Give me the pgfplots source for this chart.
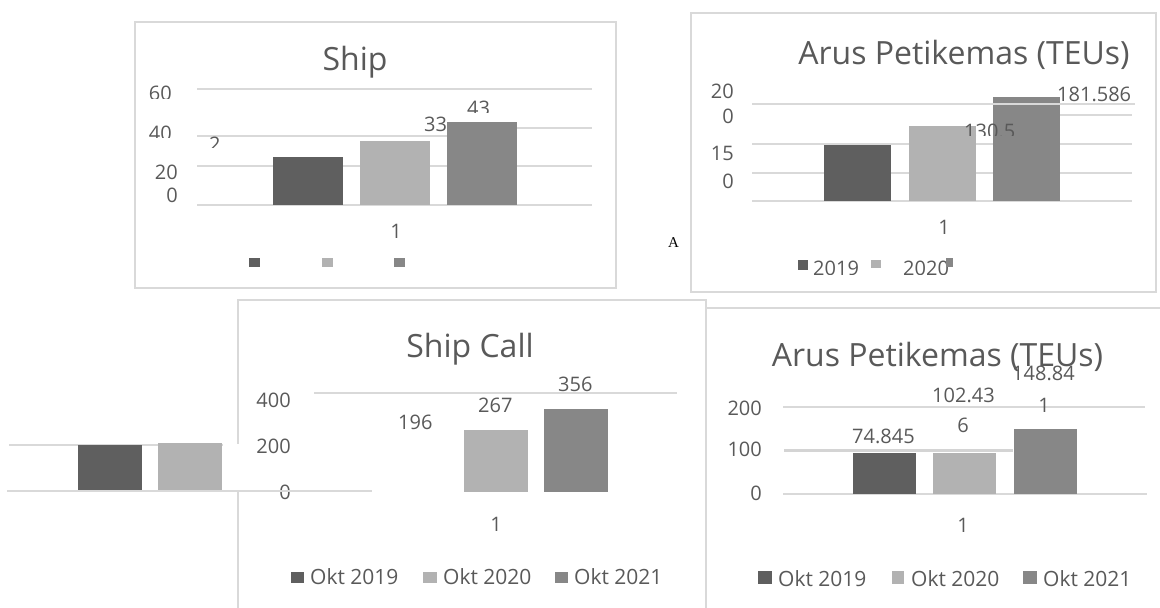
\documentclass[border=0pt]{standalone}
\usepackage{fontspec}
\setmainfont{Open Sans}
\newfontfamily\serifA{Liberation Serif}
\usepackage{pgfplots}
\pgfplotsset{compat=1.18}
\definecolor{txt}{HTML}{595959}
\definecolor{gridc}{HTML}{D9D9D9}
\definecolor{cA}{HTML}{5F5F5F}
\definecolor{cB}{HTML}{B2B2B2}
\definecolor{cC}{HTML}{878787}
\newcommand\ft{\fontsize{32}{38}\selectfont}
\newcommand\fs{\fontsize{20}{24}\selectfont}
\newcommand\fl{\fontsize{21}{25}\selectfont}
\pgfplotsset{barax/.style={scale only axis, hide axis, xmin=0.5, xmax=1.5,
  ymin=0, ybar, anchor=south west}}
\tikzset{t/.style={inner sep=0pt, text=txt, font=\fs}}

\begin{document}
\begin{tikzpicture}[x=1pt,y=1pt]
\useasboundingbox (0,0) rectangle (1160,608);

% boxes and gridlines (pixel coords, y down)
\begin{scope}[yshift=608pt, yscale=-1, line width=1.3pt]
  \draw[gridc] (135,22) rectangle (616,288);
  \draw[gridc] (691,13) rectangle (1156,292);
  \draw[gridc] (238,444) -- (238,300) -- (706,300) -- (706,608);
  \draw[gridc] (238,492) -- (238,608);
  \draw[gridc] (706,308) -- (1160,308);
  % Ship
  \draw[gridc] (197,89) -- (592,89);
  \draw[gridc] (197,136) -- (447,136);
  \draw[gridc] (447,128) -- (592,128);
  \draw[gridc] (197,166) -- (592,166);
  \draw[gridc] (197,205) -- (592,205);
  % Arus Petikemas top
  \draw[gridc] (1060,115) -- (1132,115);
  \draw[gridc] (752,144) -- (1132,144);
  \draw[gridc] (752,173) -- (1132,173);
  \draw[gridc] (752,201) -- (1132,201);
  % Ship Call
  \draw[gridc] (314,393) -- (677,393);
  \draw[gridc] (9,445) -- (223,445);
  % Arus Petikemas bottom
  \draw[gridc] (783,407) -- (1145,407);
  \draw[gridc] (783,494) -- (1147,494);
\end{scope}

% Ship
\begin{axis}[barax, at={(197pt,403pt)}, width=395pt, height=116pt,
  ymax=60, bar width=70pt]
  \addplot[fill=cA, draw=none, bar shift=-87pt] coordinates {(1,25)};
  \addplot[fill=cB, draw=none, bar shift=0pt] coordinates {(1,33)};
  \addplot[fill=cC, draw=none, bar shift=87pt] coordinates {(1,43)};
\end{axis}

% Arus Petikemas (TEUs), top
\begin{axis}[barax, at={(752pt,407pt)}, width=380pt, height=114.67pt,
  ymax=200, bar width=67pt]
  \addplot[fill=cA, draw=none, bar shift=-84.5pt] coordinates {(1,97.7)};
  \addplot[fill=cB, draw=none, bar shift=0pt] coordinates {(1,130.5)};
  \addplot[fill=cC, draw=none, bar shift=84.5pt] coordinates {(1,181.586)};
\end{axis}

% Ship Call, shifted strip
\begin{axis}[barax, at={(7pt,117pt)}, width=365pt, height=47pt,
  ymax=202, bar width=64pt]
  \addplot[fill=cA, draw=none, bar shift=-80pt] coordinates {(1,196)};
  \addplot[fill=cB, draw=none, bar shift=0pt] coordinates {(1,267)};
\end{axis}

% Ship Call
\begin{axis}[barax, at={(314pt,116pt)}, width=363pt, height=93.1pt,
  ymax=400, bar width=64pt]
  \addplot[fill=cB, draw=none, bar shift=0pt] coordinates {(1,267)};
  \addplot[fill=cC, draw=none, bar shift=80pt] coordinates {(1,356)};
\end{axis}

% Arus Petikemas (TEUs), bottom
\begin{axis}[barax, at={(783pt,114pt)}, width=363pt, height=87pt,
  ymax=200, bar width=63pt]
  \addplot[fill=cA, draw=none, bar shift=-80.5pt] coordinates {(1,94.3)};
  \addplot[fill=cB, draw=none, bar shift=0pt] coordinates {(1,94.3)};
  \addplot[fill=cC, draw=none, bar shift=80.5pt] coordinates {(1,148.841)};
\end{axis}

% texts and overlays
\begin{scope}[yshift=608pt, yscale=-1]
  % Ship
  \node[t, font=\ft, anchor=base] at (355,71) {Ship};
  \begin{scope}\clip (140,80) rectangle (190,99);
    \node[t, anchor=base east] at (172,101) {60};\end{scope}
  \begin{scope}\clip (140,120) rectangle (190,138);
    \node[t, anchor=base east] at (172,141) {40};\end{scope}
  \node[t, anchor=base east] at (178,180) {20};
  \node[t, anchor=base east] at (178,203) {0};
  \begin{scope}\clip (200,130) rectangle (230,148);
    \node[t, anchor=base west] at (209,152) {2};\end{scope}
  \node[t, anchor=base west] at (424,132) {33};
  \begin{scope}\clip (460,95) rectangle (500,113);
    \node[t, anchor=base west] at (467,116) {43};\end{scope}
  \node[t, anchor=base] at (396,239) {1};
  \fill[cA] (249,258) rectangle (260,267);
  \fill[cB] (322,258) rectangle (333,267);
  \fill[cC] (394,258) rectangle (405,267);

  % Arus Petikemas top
  \draw[gridc, line width=1.3pt] (752,104) -- (1135,104);
  \node[t, font=\ft, anchor=base] at (964,65) {Arus Petikemas (TEUs)};
  \node[t, anchor=base east] at (734,99) {20};
  \node[t, anchor=base east] at (734,124) {0};
  \node[t, anchor=base east] at (734,161) {15};
  \node[t, anchor=base east] at (734,189) {0};
  \node[t, anchor=base west] at (1057,102) {181.586};
  \begin{scope}\clip (955,115) rectangle (1030,136);
    \node[t, anchor=base west] at (964,139) {130.5};\end{scope}
  \node[t, anchor=base] at (944,235) {1};
  \node[inner sep=0pt, font=\serifA\fontsize{15}{18}\selectfont, anchor=base west] at (668,248) {A};
  \fill[cA] (798,260) rectangle (808,270);
  \fill[cB] (871,260) rectangle (881,268);
  \begin{scope}\clip (800,250) rectangle (990,275);
    \node[t, anchor=base west] at (813,276) {2019};
    \node[t, anchor=base west] at (903,276) {2020};\end{scope}
  \fill[cC] (946,258) rectangle (953,267);

  % Ship Call
  \node[t, font=\ft, anchor=base] at (470,358) {Ship Call};
  \node[t, anchor=base east] at (291,408) {400};
  \node[t, anchor=base east] at (291,454) {200};
  \node[t, anchor=base east] at (291,500) {0};
  \draw[gridc, line width=1.3pt] (7,491) -- (372,491);
  \node[t, anchor=base west] at (398,430) {196};
  \node[t, anchor=base west] at (478,413) {267};
  \node[t, anchor=base west] at (558,392) {356};
  \node[t, anchor=base] at (496,532) {1};
  \fill[cA] (291,572) rectangle (304,583);
  \fill[cB] (423,572) rectangle (437,583);
  \fill[cC] (555,572) rectangle (568,583);
  \node[t, font=\fl, anchor=base west] at (310,585) {Okt 2019};
  \node[t, font=\fl, anchor=base west] at (443,585) {Okt 2020};
  \node[t, font=\fl, anchor=base west] at (574,585) {Okt 2021};

  % Arus Petikemas bottom
  \draw[color={rgb,255:red,212;green,212;blue,212}, line width=2.5pt] (784,450.5) -- (1013,450.5);
  \node[t, font=\ft, anchor=base] at (937.5,367) {Arus Petikemas (TEUs)};
  \node[t, anchor=base east] at (762,416) {200};
  \node[t, anchor=base east] at (762,457) {100};
  \node[t, anchor=base east] at (762,501) {0};
  \node[t, anchor=base west] at (852,444) {74.845};
  \node[t, anchor=base west] at (932,403) {102.43};
  \node[t, anchor=base] at (963,433) {6};
  \node[t, anchor=base west] at (1012,381) {148.84};
  \node[t, anchor=base] at (1044,413) {1};
  \node[t, anchor=base] at (963,533) {1};
  \fill[cA] (758,571) rectangle (772,584);
  \fill[cB] (892,571) rectangle (904,584);
  \fill[cC] (1023,571) rectangle (1037,584);
  \node[t, font=\fl, anchor=base west] at (778,587) {Okt 2019};
  \node[t, font=\fl, anchor=base west] at (911,587) {Okt 2020};
  \node[t, font=\fl, anchor=base west] at (1043,587) {Okt 2021};
\end{scope}
\end{tikzpicture}
\end{document}
